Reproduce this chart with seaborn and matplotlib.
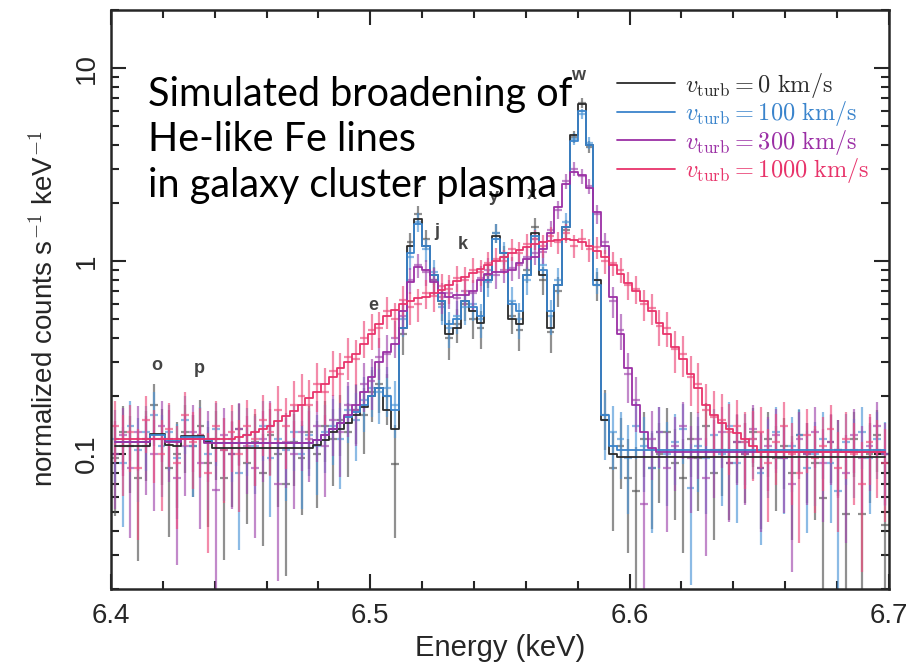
import numpy as np
import pandas as pd
import matplotlib
matplotlib.use("Agg")
import matplotlib.pyplot as plt
import seaborn as sns
from matplotlib.ticker import FixedLocator, MultipleLocator, LogLocator, NullFormatter

# ---------------- data ----------------
E_START = 6.400
BIN_WIDTH = 0.003
N_BINS = 100
energy = E_START + BIN_WIDTH * (np.arange(N_BINS) + 0.5)

series_names = ["0", "100", "300", "1000"]
legend_labels = [r"$v_{\rm turb} = 0\ {\rm km/s}$",
                 r"$v_{\rm turb} = 100\ {\rm km/s}$",
                 r"$v_{\rm turb} = 300\ {\rm km/s}$",
                 r"$v_{\rm turb} = 1000\ {\rm km/s}$"]

model_0 = ([0.11] * 5 + [0.127, 0.127, 0.112, 0.11, 0.124, 0.124, 0.124, 0.115] + [0.108] * 13 +
           [0.112, 0.118, 0.13, 0.135, 0.145, 0.16, 0.175, 0.2, 0.22, 0.17, 0.135, 0.45, 1.2, 1.65,
            1.2, 0.85, 0.62, 0.42, 0.45, 0.62, 0.55, 0.48, 0.8, 1.35, 1.1, 0.5, 0.47, 0.85, 1.4,
            0.85, 0.45, 0.75, 1.5, 4.5, 6.5, 4.0, 0.8, 0.15, 0.1] + [0.097] * 35)
model_1 = ([0.115] * 5 + [0.125, 0.125, 0.117, 0.117, 0.123, 0.123, 0.123, 0.118] + [0.114] * 13 +
           [0.118, 0.125, 0.135, 0.145, 0.155, 0.165, 0.18, 0.2, 0.22, 0.2, 0.17, 0.45, 1.1, 1.55,
            1.2, 0.85, 0.62, 0.47, 0.5, 0.62, 0.58, 0.52, 0.8, 1.3, 1.1, 0.6, 0.55, 0.85, 1.35,
            0.9, 0.55, 0.75, 1.5, 4.2, 6.0, 4.0, 0.75, 0.16, 0.11] + [0.105] * 35)
model_2 = ([0.115] * 5 + [0.12, 0.12, 0.115, 0.115, 0.12, 0.12, 0.12, 0.114] + [0.114] * 13 +
           [0.118, 0.125, 0.135, 0.145, 0.16, 0.18, 0.21, 0.25, 0.3, 0.34, 0.37, 0.55, 0.78, 0.93,
            0.9, 0.78, 0.68, 0.65, 0.67, 0.67, 0.7, 0.8, 0.86, 0.88, 0.88, 0.9, 0.98, 1.03, 1.05,
            1.15, 1.4, 1.9, 2.5, 2.9, 2.8, 2.4, 1.8, 1.2, 0.65] +
           [0.42, 0.28, 0.18, 0.13, 0.108] + [0.102] * 30)
model_3 = ([0.12] * 16 +
           [0.122, 0.125, 0.13, 0.135, 0.14, 0.148, 0.157, 0.167, 0.18, 0.195, 0.21, 0.23, 0.25,
            0.28, 0.3, 0.33, 0.37, 0.42, 0.47, 0.52, 0.56, 0.6, 0.62, 0.64, 0.65, 0.68, 0.71, 0.75,
            0.79, 0.83, 0.87, 0.91, 0.95, 1.0, 1.05, 1.1, 1.14, 1.18, 1.22, 1.25, 1.27, 1.29, 1.3,
            1.29, 1.25, 1.2, 1.13, 1.05, 0.96, 0.86, 0.77, 0.7, 0.62, 0.55, 0.48, 0.42, 0.36, 0.31,
            0.26, 0.22, 0.18, 0.16, 0.145, 0.135, 0.128, 0.12, 0.11] + [0.102] * 17)

data_0 = [0.095, 0.13, 0.11, 0.075, 0.12, 0.18, 0.12, 0.085, 0.1, 0.13, 0.11, 0.14, 0.09,
          0.12, 0.075, 0.1, 0.135, 0.09, 0.115, 0.08, 0.125, 0.1, 0.07, 0.115, 0.095, 0.13,
          0.1, 0.14, 0.12, 0.15, 0.13, 0.17, 0.16, 0.21, 0.23, 0.2, 0.089, 0.42, 1.25, 1.75, 1.3,
          0.8, 0.6, 0.4, 0.47, 0.6, 0.5, 0.45, 0.85, 1.4, 1.05, 0.52, 0.44, 0.9, 1.5, 0.8, 0.43,
          0.7, 1.45, 4.4, 6.6, 3.9, 0.75, 0.16, 0.085,
          0.11, 0.075, 0.064, 0.12, 0.085, 0.1, 0.13, 0.09, 0.075, 0.12, 0.095, 0.14, 0.08,
          0.105, 0.09, 0.115, 0.1, 0.13, 0.085, 0.12, 0.095, 0.11, 0.08, 0.125, 0.1, 0.09,
          0.059, 0.115, 0.105, 0.049, 0.12, 0.049, 0.1, 0.125, 0.043]
data_1 = [0.12, 0.09, 0.14, 0.105, 0.13, 0.16, 0.11, 0.13, 0.095, 0.15, 0.11, 0.125, 0.1,
          0.135, 0.105, 0.12, 0.08, 0.125, 0.11, 0.14, 0.095, 0.12, 0.105, 0.13, 0.1, 0.125,
          0.11, 0.13, 0.14, 0.12, 0.17, 0.15, 0.19, 0.22, 0.21, 0.22, 0.18, 0.5, 1.05, 1.6, 1.15,
          0.88, 0.58, 0.45, 0.52, 0.58, 0.6, 0.5, 0.78, 1.4, 1.1, 0.62, 0.5, 0.8, 1.3, 0.95, 0.52,
          0.8, 1.6, 4.3, 5.8, 4.1, 0.8, 0.15, 0.13,
          0.12, 0.095, 0.14, 0.11, 0.085, 0.13, 0.1, 0.115, 0.135, 0.067, 0.11, 0.095, 0.125,
          0.1, 0.14, 0.09, 0.115, 0.12, 0.08, 0.105, 0.13, 0.095, 0.11, 0.125, 0.085, 0.1, 0.12,
          0.09, 0.064, 0.115, 0.105, 0.13, 0.095, 0.12, 0.1]
data_2 = [0.1, 0.125, 0.085, 0.13, 0.11, 0.1, 0.14, 0.12, 0.075, 0.11, 0.13, 0.09, 0.12,
          0.065, 0.125, 0.1, 0.135, 0.11, 0.085, 0.12, 0.14, 0.07, 0.115, 0.1, 0.13, 0.12,
          0.14, 0.11, 0.15, 0.13, 0.18, 0.17, 0.23, 0.24, 0.32, 0.33, 0.4, 0.52, 0.8, 0.95, 0.88,
          0.8, 0.65, 0.68, 0.64, 0.7, 0.68, 0.82, 0.9, 0.85, 0.9, 0.92, 0.95, 1.05, 1.1, 1.12,
          1.45, 1.85, 2.6, 3.0, 2.75, 2.45, 1.75, 1.25, 0.62,
          0.44, 0.26, 0.19, 0.055, 0.12,
          0.13, 0.085, 0.11, 0.14, 0.095, 0.12, 0.075, 0.105, 0.13, 0.09, 0.115, 0.1, 0.135,
          0.085, 0.11, 0.125, 0.095, 0.07, 0.12, 0.1, 0.13, 0.09, 0.115, 0.105, 0.08, 0.125,
          0.095, 0.11, 0.14, 0.1]
data_3 = [0.14, 0.11, 0.13, 0.085, 0.15, 0.12, 0.1, 0.135, 0.09, 0.16, 0.115, 0.125, 0.08,
          0.14, 0.105, 0.13,
          0.1, 0.14, 0.12, 0.15, 0.13, 0.17, 0.14, 0.18, 0.2, 0.18, 0.23, 0.21, 0.27, 0.26, 0.32,
          0.31, 0.4, 0.44, 0.45, 0.55, 0.5, 0.63, 0.58, 0.6, 0.68, 0.66, 0.74, 0.72, 0.82, 0.8,
          0.9, 0.88, 0.98, 1.02, 1.0, 1.15, 1.1, 1.22, 1.3, 1.2, 1.35, 1.25, 1.4, 1.2, 1.3, 1.15,
          1.18, 1.0, 0.98, 0.9, 0.75, 0.72, 0.6, 0.57, 0.46, 0.45, 0.35, 0.33, 0.25, 0.23, 0.17,
          0.155, 0.15, 0.13, 0.14, 0.115, 0.12,
          0.13, 0.09, 0.115, 0.14, 0.1, 0.08, 0.125, 0.095, 0.11, 0.135, 0.085, 0.12, 0.1, 0.07,
          0.115, 0.105, 0.09]

models = [model_0, model_1, model_2, model_3]
datas = [data_0, data_1, data_2, data_3]
for m, d in zip(models, datas):
    assert len(m) == N_BINS and len(d) == N_BINS, (len(m), len(d))

line_names = ["o", "p", "e", "r", "j", "k", "y", "x", "w"]
line_energy = [6.4177, 6.4340, 6.5010, 6.5180, 6.5255, 6.5355, 6.5475, 6.5625, 6.5800]
line_height = [0.26, 0.25, 0.53, 2.1, 1.28, 1.1, 1.95, 2.0, 8.3]

# ---------------- style ----------------
sns.set_style("ticks")
plt.rcParams["font.family"] = ["Liberation Sans", "DejaVu Sans"]
plt.rcParams["mathtext.fontset"] = "cm"

line_colors = ["#2b2b2b", "#3a84cc", "#9b2fa5", "#e8336a"]
bar_colors = ["#555555", "#4e97d8", "#a24aae", "#ee4d7d"]

fig = plt.figure(figsize=(9.11, 6.65), dpi=100)
ax = fig.add_axes([0.1218, 0.1143, 0.854, 0.8707])

# data points with error bars (Poisson-like errors from the model level)
for m, d, c in zip(models, datas, bar_colors):
    err = 0.45 * np.sqrt(0.1 * np.asarray(m))
    ax.errorbar(energy, d, yerr=err, xerr=BIN_WIDTH / 2, fmt="none",
                ecolor=c, elinewidth=1.6, alpha=0.65, zorder=2)

df = pd.concat([pd.DataFrame({"energy": energy, "counts": m, "series": lab})
                for m, lab in zip(models, legend_labels)], ignore_index=True)
sns.lineplot(data=df, x="energy", y="counts", hue="series", hue_order=legend_labels,
             palette=line_colors, estimator=None, sort=True, drawstyle="steps-mid",
             linewidth=1.3, ax=ax, zorder=3)

ax.set_yscale("log")
ax.set_xlim(6.4, 6.7)
ax.set_ylim(0.02, 20)

# ticks
ax.xaxis.set_minor_locator(MultipleLocator(0.02))
ax.set_xticks([6.4, 6.5, 6.6, 6.7])
ax.set_xticklabels(["6.4", "6.5", "6.6", "6.7"])
ax.yaxis.set_major_locator(FixedLocator([0.1, 1, 10]))
ax.set_yticklabels(["0.1", "1", "10"])
ax.yaxis.set_minor_locator(LogLocator(base=10, subs=np.arange(2, 10)))
ax.yaxis.set_minor_formatter(NullFormatter())
ax.tick_params(which="both", direction="in", top=True, right=True, width=1.5)
ax.tick_params(which="major", length=11, labelsize=20)
ax.tick_params(axis="x", which="major", pad=10)
ax.tick_params(axis="y", which="major", pad=8)
ax.tick_params(which="minor", length=6)
ax.tick_params(axis="y", which="major", labelrotation=90)
for lbl in ax.get_yticklabels():
    lbl.set_va("center")
for sp in ax.spines.values():
    sp.set_linewidth(1.8)

ax.set_xlabel("Energy (keV)", fontsize=21, labelpad=4)
ax.set_ylabel(r"normalized counts s$^{-1}$ keV$^{-1}$", fontsize=20)
ax.yaxis.set_label_coords(-0.067, 0.485)

# line identifications
for name, e, h in zip(line_names, line_energy, line_height):
    ax.text(e, h, name, fontsize=13, color="#444444", ha="center", va="bottom",
            fontweight="semibold", zorder=4)

ax.text(6.4143, 9.1, "Simulated broadening of\nHe-like Fe lines\nin galaxy cluster plasma",
        fontsize=28.5, family=["Lato", "DejaVu Sans"], color="black", ha="left", va="top",
        linespacing=1.28, zorder=5)

handles, labels = ax.get_legend_handles_labels()
leg = ax.legend(handles, labels, loc="upper left", bbox_to_anchor=(0.622, 0.933),
                frameon=False, fontsize=17.5, labelcolor="linecolor", handlelength=2.4,
                labelspacing=-0.02, handletextpad=0.4)

fig.savefig("out.png", dpi=100)
